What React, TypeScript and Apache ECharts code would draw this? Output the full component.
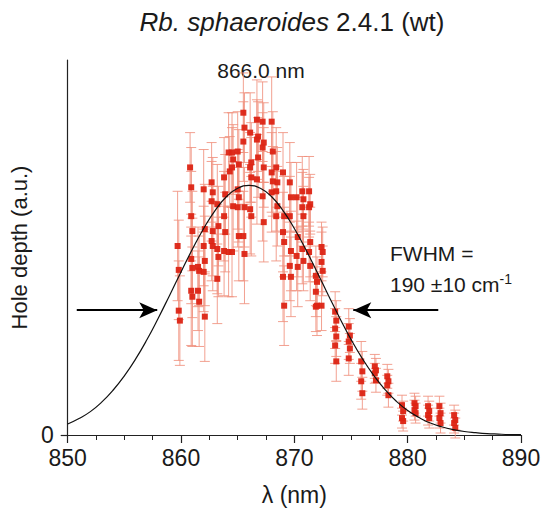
import React, { useEffect, useRef } from "react";
import * as echarts from "echarts";

// Measured points: wavelength (nm), hole depth (a.u.), error (a.u.)
const lambdaNm = [
  859.7, 859.8, 859.8, 859.9,
  860.8, 860.9, 860.9, 861.0, 860.9, 861.0, 860.9, 861.0,
  861.5, 861.6, 861.5, 861.6,
  862.0, 862.1, 862.0, 862.1, 862.0, 862.1,
  862.7, 862.8, 862.7, 862.8, 862.7, 862.8,
  863.2, 863.3, 863.2, 863.3, 863.2,
  863.8, 863.9, 863.8, 863.9, 863.8,
  864.2, 864.3, 864.2,
  864.5, 864.6, 864.5, 864.6, 864.5,
  865.0, 865.1, 865.0, 865.1, 865.0, 865.1,
  865.5, 865.6, 865.5, 865.6, 865.5, 865.6,
  866.1, 866.2, 866.1, 866.2, 866.1, 866.2,
  866.7, 866.8, 866.7, 866.8, 866.7,
  867.2, 867.3, 867.2, 867.3, 867.2, 867.3,
  868.0, 868.1, 868.0, 868.1, 868.0,
  868.4, 868.5, 868.4, 868.5, 868.4,
  869.0, 869.1, 869.0, 869.1, 869.0, 869.1,
  869.6, 869.7, 869.6, 869.7, 869.6, 869.7,
  870.2, 870.3, 870.2, 870.3,
  870.7, 870.8, 870.7, 870.8, 870.7, 870.8,
  871.3, 871.4, 871.3, 871.4, 871.3, 871.4,
  871.9, 872.0, 871.9, 872.0, 871.9,
  872.4, 872.5, 872.4, 872.5, 872.4,
  873.6, 873.7, 873.6, 873.7, 873.6, 873.7,
  874.8, 874.9, 874.8, 874.9, 874.8,
  875.9, 876.0, 875.9, 876.0,
  877.1, 877.2, 877.1, 877.2,
  878.2, 878.3, 878.2, 878.3,
  879.5, 879.6, 879.5, 879.6,
  880.6, 880.7, 880.6, 880.7,
  881.8, 881.9, 881.8, 881.9,
  882.8, 882.9, 882.8, 882.9,
  884.1, 884.2, 884.1, 884.2,
];

const depthAU = [
  190, 166, 125, 115,
  269, 249, 220, 205, 177, 168, 145, 139,
  169, 165, 145, 134,
  247, 207, 190, 175, 164, 119,
  254, 244, 235, 205, 195, 190,
  232, 210, 187, 179, 157,
  259, 242, 220, 204, 185,
  284, 265, 184,
  284, 277, 269, 230, 184,
  285, 272, 247, 239, 229, 200,
  324, 309, 295, 229, 200, 182,
  304, 274, 269, 259, 227, 220,
  317, 300, 297, 279, 257,
  315, 294, 289, 269, 240, 214,
  315, 285, 264, 255, 244,
  269, 254, 245, 230, 220,
  264, 220, 204, 194, 159, 130,
  254, 239, 220, 185, 170, 159,
  239, 199, 180, 169,
  245, 237, 229, 220, 187, 175,
  245, 232, 229, 194, 184, 170,
  160, 154, 144, 130, 129,
  189, 184, 174, 165, 130,
  124, 115, 107, 99, 90, 74,
  109, 100, 94, 87, 77,
  74, 64, 54, 42,
  69, 65, 62, 55,
  59, 54, 50, 40,
  30, 24, 17, 14,
  32, 29, 25, 22,
  29, 24, 20, 17,
  29, 22, 17, 12,
  20, 15, 12, 7,
];

const errAU = [
  55, 50, 50, 45,
  35, 40, 45, 40, 45, 50, 55, 50,
  40, 35, 40, 45,
  40, 45, 40, 45, 40, 45,
  40, 35, 40, 45, 40, 45,
  40, 40, 45, 40, 45,
  40, 40, 45, 40, 45,
  40, 35, 45,
  40, 35, 40, 45, 45,
  40, 35, 40, 45, 40, 45,
  40, 35, 40, 40, 45, 50,
  40, 40, 35, 40, 45, 40,
  40, 35, 40, 40, 45,
  40, 40, 35, 40, 45, 40,
  45, 40, 40, 35, 40,
  40, 35, 40, 40, 45,
  40, 40, 40, 35, 45, 40,
  40, 35, 40, 40, 35, 40,
  35, 40, 35, 40,
  35, 30, 35, 30, 35, 30,
  35, 30, 30, 35, 30, 35,
  30, 25, 25, 30, 25,
  25, 25, 30, 25, 25,
  20, 20, 20, 20, 18, 20,
  18, 17, 18, 15, 17,
  20, 20, 18, 16,
  12, 12, 10, 12,
  12, 12, 10, 12,
  10, 10, 10, 10,
  10, 10, 10, 10,
  10, 10, 10, 10,
  10, 10, 10, 10,
  10, 10, 10, 10,
];

// Fitted curve at 1 nm steps
const fitLambda = [
  850, 851, 852, 853, 854, 855, 856, 857, 858, 859, 860,
  861, 862, 863, 864, 865, 866, 867, 868, 869, 870,
  871, 872, 873, 874, 875, 876, 877, 878, 879, 880,
  881, 882, 883, 884, 885, 886, 887, 888, 889, 890,
];
const fitDepth = [
  11, 16.5, 23.5, 33, 45, 59.5, 76.5, 96, 117.7, 140.6, 163.9,
  186.7, 207.6, 225.6, 239.5, 248, 251, 248, 239.5, 225.6, 207.6,
  186.7, 163.9, 140.6, 117.7, 96.1, 76.8, 60, 45.7, 33.9, 24.6,
  17.6, 12, 8.3, 5.5, 3.5, 2.3, 1.4, 0.9, 0.5, 0.3,
];

// FWHM arrows at half maximum (nm, a.u.)
const halfMax = 125.5;
const leftArrow = [850.8, 857.9];
const rightArrow = [882.7, 875.2];

const xTicks = [850, 860, 870, 880, 890];

const FONT = "'Liberation Sans', Arial, Helvetica, sans-serif";
const TXT = "#1a1a1a";

export default function App() {
  const ref = useRef<HTMLDivElement>(null);

  useEffect(() => {
    if (!ref.current) return;
    const chart = echarts.init(ref.current, undefined, { renderer: "svg" });

    const points = lambdaNm.map((l, i) => [l, depthAU[i], errAU[i]]);
    const fit = fitLambda.map((l, i) => [l, fitDepth[i]]);

    chart.setOption({
      animation: false,
      backgroundColor: "#ffffff",
      textStyle: { fontFamily: FONT },
      grid: { left: 59, right: 34, top: 60, bottom: 74 },
      xAxis: {
        type: "value",
        min: xTicks[0],
        max: xTicks[xTicks.length - 1],
        interval: 10,
        name: "λ (nm)",
        nameLocation: "middle",
        nameGap: 48,
        nameTextStyle: { fontSize: 23, color: TXT, fontFamily: FONT },
        axisLine: { onZero: false, lineStyle: { color: "#222", width: 1.2 } },
        axisTick: { show: true, length: 8, lineStyle: { color: "#222", width: 1.2 } },
        minorTick: { show: true, splitNumber: 4, length: 5, lineStyle: { color: "#222", width: 1 } },
        axisLabel: { fontSize: 23, color: TXT, margin: 11, fontFamily: FONT },
        splitLine: { show: false },
        minorSplitLine: { show: false },
      },
      yAxis: {
        type: "value",
        min: 0,
        max: 377,
        name: "Hole depth (a.u.)",
        nameLocation: "middle",
        nameGap: 26,
        nameTextStyle: { fontSize: 22, color: TXT, fontFamily: FONT },
        axisLine: { show: true, onZero: false, lineStyle: { color: "#222", width: 1.2 } },
        axisTick: { show: true, length: 7, customValues: [0], lineStyle: { color: "#222", width: 1.2 } },
        axisLabel: { fontSize: 23, color: TXT, margin: 14, customValues: [0], fontFamily: FONT },
        splitLine: { show: false },
      },
      graphic: [
        {
          type: "text",
          x: 292,
          y: 22,
          style: {
            text: "{i|Rb. sphaeroides} {n|2.4.1 (wt)}",
            align: "center",
            verticalAlign: "middle",
            rich: {
              i: { fontSize: 26, fontStyle: "italic", fontFamily: FONT, fill: TXT },
              n: { fontSize: 26, fontFamily: FONT, fill: TXT },
            },
            font: `26px ${FONT}`,
            fill: TXT,
          },
        },
        {
          type: "text",
          x: 261,
          y: 70,
          style: {
            text: "866.0 nm",
            align: "center",
            verticalAlign: "middle",
            font: `21px ${FONT}`,
            fill: TXT,
          },
        },
        {
          type: "text",
          x: 390,
          y: 253,
          style: {
            text: "FWHM =",
            align: "left",
            verticalAlign: "middle",
            font: `21px ${FONT}`,
            fill: TXT,
          },
        },
        {
          type: "text",
          x: 390,
          y: 284,
          style: {
            text: "{n|190 ±10 cm}{s|-1}",
            align: "left",
            verticalAlign: "middle",
            rich: {
              n: { fontSize: 21, lineHeight: 24, fontFamily: FONT, fill: TXT },
              s: { fontSize: 14, lineHeight: 14, verticalAlign: "top", fontFamily: FONT, fill: TXT },
            },
            fill: TXT,
          },
        },
      ],
      series: [
        {
          type: "custom",
          name: "errors",
          data: points,
          z: 2,
          clip: false,
          renderItem: (params: any, api: any) => {
            const x = api.value(0);
            const y = api.value(1);
            const e = api.value(2);
            const top = api.coord([x, y + e]);
            const bot = api.coord([x, y - e]);
            const cap = 5;
            const style = { stroke: "#f0907e", lineWidth: 1, opacity: 0.85 };
            return {
              type: "group",
              children: [
                { type: "line", shape: { x1: top[0], y1: top[1], x2: bot[0], y2: bot[1] }, style },
                { type: "line", shape: { x1: top[0] - cap, y1: top[1], x2: top[0] + cap, y2: top[1] }, style },
                { type: "line", shape: { x1: bot[0] - cap, y1: bot[1], x2: bot[0] + cap, y2: bot[1] }, style },
              ],
            };
          },
        },
        {
          type: "scatter",
          name: "points",
          data: points.map((p) => [p[0], p[1]]),
          symbol: "rect",
          symbolSize: 6,
          z: 3,
          itemStyle: { color: "#dc2414", opacity: 0.95 },
        },
        {
          type: "line",
          name: "fit",
          data: fit,
          smooth: true,
          showSymbol: false,
          z: 4,
          lineStyle: { color: "#111", width: 1.2 },
          markLine: {
            silent: true,
            symbol: ["none", "arrow"],
            symbolSize: [12, 18],
            label: { show: false },
            lineStyle: { color: "#000", width: 2, type: "solid" },
            data: [
              [{ coord: [leftArrow[0], halfMax] }, { coord: [leftArrow[1], halfMax] }],
              [{ coord: [rightArrow[0], halfMax] }, { coord: [rightArrow[1], halfMax] }],
            ],
          },
        },
      ],
    });

    return () => chart.dispose();
  }, []);

  return (
    <div
      ref={ref}
      style={{ position: "fixed", left: 0, top: 0, width: 555, height: 511, background: "#fff" }}
    />
  );
}
